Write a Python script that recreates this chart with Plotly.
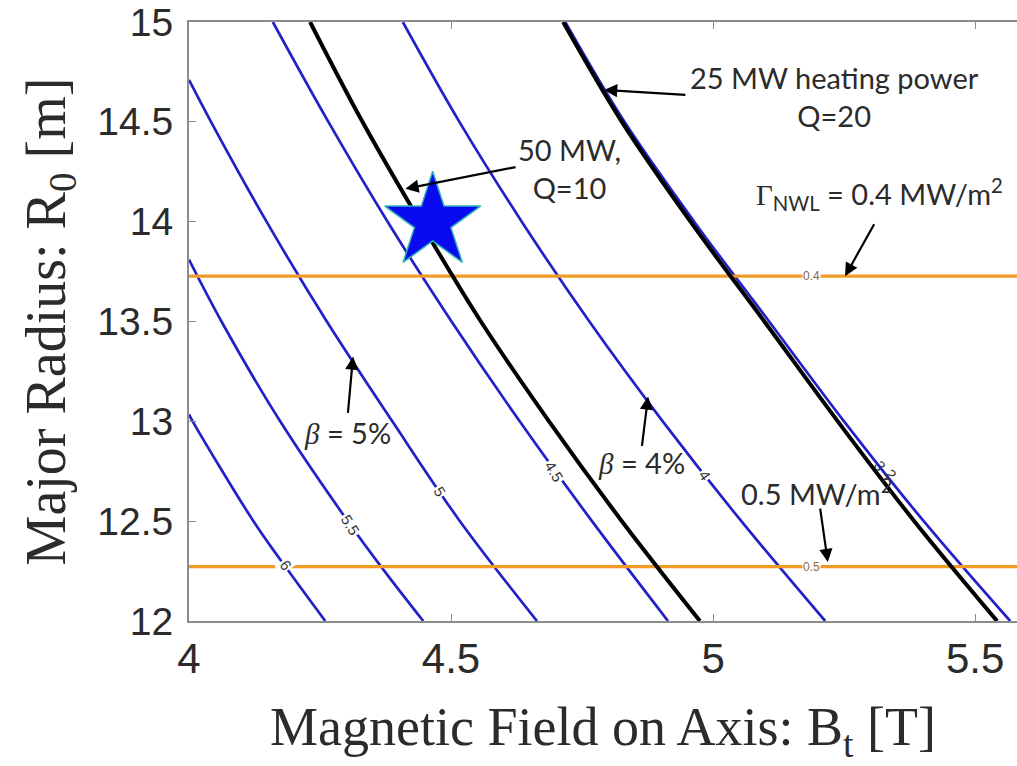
import plotly.graph_objects as go

# Beta contours (beta in %), traced as (B_t [T], R_0 [m]) pairs
beta6_B = [4.000, 4.007, 4.123, 4.190, 4.260]
beta6_R = [13.035, 13.0, 12.5, 12.25, 12.0]

beta55_B = [4.000, 4.062, 4.174, 4.303, 4.373, 4.447]
beta55_R = [13.81, 13.5, 13.0, 12.5, 12.25, 12.0]

beta5_B = [4.000, 4.042, 4.148, 4.263, 4.388, 4.517, 4.664]
beta5_R = [14.71, 14.5, 14.0, 13.5, 13.0, 12.5, 12.0]

beta45_B = [4.160, 4.266, 4.379, 4.501, 4.631, 4.769, 4.914]
beta45_R = [15.0, 14.5, 14.0, 13.5, 13.0, 12.5, 12.0]

beta4_B = [4.408, 4.516, 4.635, 4.764, 4.904, 5.054, 5.214]
beta4_R = [15.0, 14.5, 14.0, 13.5, 13.0, 12.5, 12.0]

beta3_B = [4.718, 4.831, 4.964, 5.107, 5.250, 5.402, 5.567]
beta3_R = [15.0, 14.5, 14.0, 13.5, 13.0, 12.5, 12.0]

# Heating-power contours
p50_B = [4.231, 4.331, 4.441, 4.557, 4.687, 4.826, 4.975]
p50_R = [15.0, 14.5, 14.0, 13.5, 13.0, 12.5, 12.0]

p25_B = [4.714, 4.826, 4.957, 5.098, 5.238, 5.384, 5.542]
p25_R = [15.0, 14.5, 14.0, 13.5, 13.0, 12.5, 12.0]

# Neutron wall load levels [MW/m^2] and the radius where each is reached
nwl_levels = ["0.4", "0.5"]
nwl_R = [13.727, 12.272]

# Design point
star_B = [4.465]
star_R = [14.0]

# Contour labels: text, B, R, angle
beta_labels = ["6", "5.5", "5", "4.5", "4"]
beta_label_B = [4.186, 4.309, 4.479, 4.697, 4.985]
beta_label_R = [12.28, 12.48, 12.65, 12.75, 12.73]
beta_label_angle = [56, 58, 59, 58, 55]

x_ticks = [4, 4.5, 5, 5.5]
y_ticks = [12, 12.5, 13, 13.5, 14, 14.5, 15]

BLUE = "#2121c8"
ORANGE = "#f29a26"
TEXT = "#2b2b2b"
ANN_FONT = "Lato"
SERIF = "Liberation Serif"

fig = go.Figure()

for xs, ys in [(beta6_B, beta6_R), (beta55_B, beta55_R), (beta5_B, beta5_R),
               (beta45_B, beta45_R), (beta4_B, beta4_R), (beta3_B, beta3_R)]:
    fig.add_trace(go.Scatter(x=xs, y=ys, mode="lines",
                             line=dict(color=BLUE, width=2.7, shape="spline", smoothing=1.0),
                             hoverinfo="skip", showlegend=False))

for lvl, r in zip(nwl_levels, nwl_R):
    fig.add_trace(go.Scatter(x=[4.0, 5.58], y=[r, r], mode="lines",
                             line=dict(color=ORANGE, width=3.2),
                             hoverinfo="skip", showlegend=False))

for xs, ys in [(p50_B, p50_R), (p25_B, p25_R)]:
    fig.add_trace(go.Scatter(x=xs, y=ys, mode="lines",
                             line=dict(color="black", width=4, shape="spline", smoothing=1.0),
                             hoverinfo="skip", showlegend=False))

fig.add_trace(go.Scatter(x=star_B, y=star_R, mode="markers",
                         marker=dict(symbol="star", size=72, color="#0a0af0",
                                     line=dict(color="#2fb5b5", width=1.5)),
                         hoverinfo="skip", showlegend=False))

annotations = []

# contour labels on the beta lines
for t, bx, ry, ang in zip(beta_labels, beta_label_B, beta_label_R, beta_label_angle):
    annotations.append(dict(x=bx, y=ry, xref="x", yref="y", text=t, showarrow=False,
                            textangle=ang, bgcolor="white", borderpad=1,
                            font=dict(family="Liberation Sans", size=15, color="#333333")))
annotations.append(dict(x=5.318, y=12.78, xref="x", yref="y", text="3", showarrow=False,
                        textangle=55, font=dict(family="Liberation Sans", size=15, color="#333333")))
annotations.append(dict(x=5.340, y=12.735, xref="x", yref="y", text="2", showarrow=False,
                        textangle=55, font=dict(family="Liberation Sans", size=15, color="#333333")))

# labels on the wall-load lines
for lvl, r in zip(nwl_levels, nwl_R):
    annotations.append(dict(x=5.187, y=r, xref="x", yref="y", text=lvl, showarrow=False,
                            bgcolor="white", borderpad=0,
                            font=dict(family="Liberation Sans", size=12, color="#8a6a40")))

def arrow(head_b, head_r, tail_b, tail_r):
    return dict(x=head_b, y=head_r, ax=tail_b, ay=tail_r, xref="x", yref="y",
                axref="x", ayref="y", text="", showarrow=True, arrowhead=2,
                arrowsize=1.2, arrowwidth=2.2, arrowcolor="black")

def label(b, r, text, size=29, family=ANN_FONT):
    return dict(x=b, y=r, xref="x", yref="y", text=text, showarrow=False,
                font=dict(family=family, size=size, color=TEXT), align="center")

annotations += [
    arrow(4.792, 14.66, 4.950, 14.635),
    label(5.232, 14.625, "25 MW heating power<br>Q=20"),
    arrow(4.413, 14.165, 4.626, 14.275),
    label(4.726, 14.265, "50 MW,<br>Q=10"),
    arrow(5.252, 13.727, 5.309, 13.995),
    label(5.318, 14.14,
          "<span style='font-family:Liberation Serif'>Γ</span><sub>NWL</sub> = 0.4 MW/m<sup>2</sup>"),
    arrow(5.219, 12.295, 5.204, 12.57),
    label(5.197, 12.645, "0.5 MW/m<sup>2</sup>"),
    arrow(4.313, 13.325, 4.303, 13.035),
    label(4.303, 12.945, "<span style='font-family:Liberation Serif'><i>β</i></span> = 5%"),
    arrow(4.876, 13.125, 4.864, 12.87),
    label(4.863, 12.795, "<span style='font-family:Liberation Serif'><i>β</i></span> = 4%"),
]

fig.update_layout(
    width=1017, height=766,
    margin=dict(l=189, r=0, t=22, b=145),
    paper_bgcolor="white", plot_bgcolor="white",
    annotations=annotations,
    xaxis=dict(range=[4.0, 5.58], tickvals=x_ticks, ticktext=[str(v) for v in x_ticks],
               showgrid=False, zeroline=False, showline=True, linecolor="#8c8c8c",
               linewidth=2, mirror="ticks", ticks="inside", ticklen=7, tickcolor="#8c8c8c",
               tickfont=dict(family="Liberation Sans", size=42, color=TEXT),
               title=dict(text="Magnetic Field on Axis: B<sub>t</sub> [T]",
                          font=dict(family=SERIF, size=54, color=TEXT), standoff=26)),
    yaxis=dict(range=[12.0, 15.0], tickvals=y_ticks, ticktext=[f"{v:g}" for v in y_ticks],
               showgrid=False, zeroline=False, showline=True, linecolor="#8c8c8c",
               linewidth=2, mirror=False, ticks="inside", ticklen=7, tickcolor="#8c8c8c",
               ticklabelstandoff=6,
               tickfont=dict(family="Liberation Sans", size=39, color=TEXT),
               title=dict(text="Major Radius: R<sub>0</sub> [m]",
                          font=dict(family=SERIF, size=56, color=TEXT), standoff=14)),
)

fig.write_html("out.html")
